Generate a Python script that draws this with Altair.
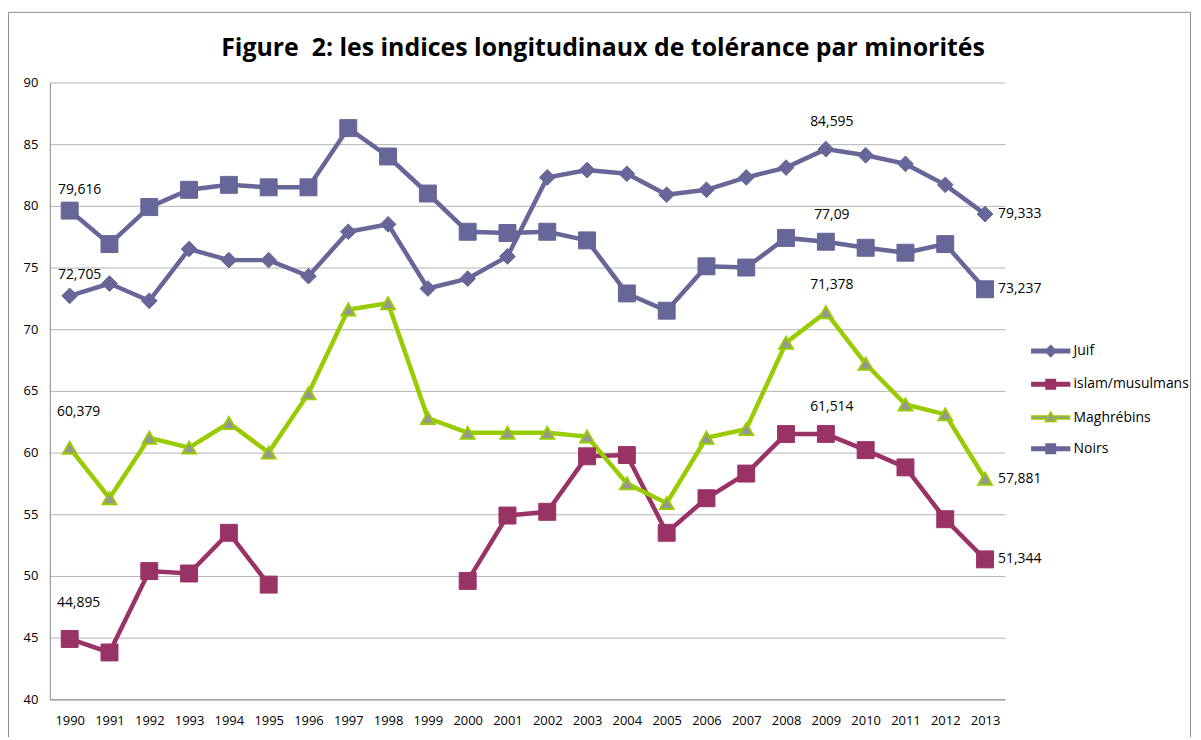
import json
import altair as alt
import pandas as pd

years = list(range(1990, 2014))
series_names = ["Juif", "islam/musulmans", "Maghrébins", "Noirs"]

juif = [72.705, 73.7, 72.3, 76.5, 75.6, 75.6, 74.3, 77.9, 78.5, 73.3, 74.1, 75.9,
        82.3, 82.9, 82.6, 80.9, 81.3, 82.3, 83.1, 84.595, 84.1, 83.4, 81.7, 79.333]
islam = [44.895, 43.8, 50.4, 50.2, 53.5, 49.3, None, None, None, None, 49.6, 54.9,
         55.2, 59.7, 59.8, 53.5, 56.3, 58.3, 61.5, 61.514, 60.2, 58.8, 54.6, 51.344]
maghrebins = [60.379, 56.3, 61.2, 60.4, 62.4, 60.0, 64.8, 71.6, 72.1, 62.8, 61.6, 61.6,
              61.6, 61.3, 57.5, 55.9, 61.2, 61.9, 68.9, 71.378, 67.2, 63.9, 63.1, 57.881]
noirs = [79.616, 76.9, 79.9, 81.3, 81.7, 81.5, 81.5, 86.3, 84.0, 81.0, 77.9, 77.8,
         77.9, 77.2, 72.9, 71.5, 75.1, 75.0, 77.4, 77.09, 76.6, 76.2, 76.9, 73.237]

line_colors = ["#666699", "#993366", "#99CC00", "#666699"]
fill_colors = ["#666699", "#993366", "#969696", "#666699"]

title_text = "Figure\u00a0 2: les indices longitudinaux de tolérance par minorités"
FONT = "Open Sans"

rows = []
for name, vals in zip(series_names, [juif, islam, maghrebins, noirs]):
    for yr, v in zip(years, vals):
        lab = "" if v is None else f"{v:g}".replace(".", ",")
        rows.append({"year": yr, "series": name, "value": v, "label": lab})
df = pd.DataFrame(rows)

# legend symbols: line segment with marker (unit square -1..1)
leg_diamond = "M-3.8,-0.35L3.8,-0.35L3.8,0.35L-3.8,0.35Z M0,-1.1L1.1,0L0,1.1L-1.1,0Z"
leg_square = "M-3.8,-0.35L3.8,-0.35L3.8,0.35L-3.8,0.35Z M-0.95,-0.95L0.95,-0.95L0.95,0.95L-0.95,0.95Z"
leg_triangle = ("M-3.8,-0.3L-0.62,-0.3L-0.62,0.3L-3.8,0.3Z M0.62,-0.3L3.8,-0.3L3.8,0.3L0.62,0.3Z "
                "M0,-1.1L1.1,0.8L-1.1,0.8Z")
legend_paths = [leg_diamond, leg_square, leg_triangle, leg_square]

x_enc = alt.X("year:O", title=None,
              axis=alt.Axis(labelAngle=0, ticks=False, domainColor="#868686",
                            labelPadding=15, labelFontSize=13, labelFont=FONT,
                            labelColor="#000000", grid=False))
y_enc = alt.Y("value:Q", title=None,
              scale=alt.Scale(domain=[40, 90], nice=False, zero=False),
              axis=alt.Axis(values=list(range(40, 95, 5)), ticks=False,
                            domainColor="#868686", gridColor="#b3b3b3",
                            labelPadding=12, labelFontSize=13, labelFont=FONT,
                            labelColor="#000000"))

# line colour scale listed in reverse so that its (disabled) legend is not merged
line_scale = alt.Scale(domain=series_names[::-1], range=line_colors[::-1])
stroke_scale = alt.Scale(domain=series_names, range=line_colors)
fill_scale = alt.Scale(domain=series_names, range=fill_colors)


def in_series(names):
    return f"indexof({json.dumps(names)}, datum.series) >= 0"


frame = alt.Chart(alt.Data(values=[{"a": 1}])).mark_rect(
    fillOpacity=0, stroke="#8c8c8c", strokeWidth=1
).encode(x=alt.value(-41.5), x2=alt.value(1146.5), y=alt.value(-70.5), y2=alt.value(700))

lines = alt.Chart(df).mark_line(strokeWidth=4.5, invalid="break-paths-show-domains").encode(
    x=x_enc, y=y_enc,
    color=alt.Color("series:N", scale=line_scale, legend=None),
)

legend_layer = alt.Chart(df).transform_filter("false").mark_point(
    filled=True, opacity=1, size=100, strokeWidth=1.5
).encode(
    x=x_enc, y=y_enc,
    shape=alt.Shape("series:N", scale=alt.Scale(domain=series_names, range=legend_paths),
                    legend=alt.Legend(title=None)),
    fill=alt.Fill("series:N", scale=fill_scale, legend=alt.Legend(title=None)),
    stroke=alt.Stroke("series:N", scale=stroke_scale, legend=alt.Legend(title=None)),
)


def pts(names, shape, size, sw):
    return alt.Chart(df).transform_filter(in_series(names)).mark_point(
        shape=shape, size=size, filled=True, opacity=1, strokeWidth=sw
    ).encode(
        x=x_enc, y=y_enc,
        fill=alt.Fill("series:N", scale=fill_scale),
        stroke=alt.Stroke("series:N", scale=stroke_scale),
    )


diamonds = pts(["Juif"], "diamond", 250, 1)
squares = pts(["islam/musulmans", "Noirs"], "square", 290, 1)
triangles = pts(["Maghrébins"], "triangle-up", 190, 2)


def labels(yr, names, dx, dy, align="center"):
    return alt.Chart(df).transform_filter(
        f"datum.year == {yr} && " + in_series(names)
    ).mark_text(dx=dx, dy=dy, align=align, baseline="middle", fontSize=14,
                font=FONT, color="#000000").encode(x=x_enc, y=y_enc, text="label:N")


lab1 = labels(1990, ["Juif", "Noirs"], 10, -21)
lab2 = labels(1990, ["Maghrébins", "islam/musulmans"], 9, -36)
lab3 = labels(2009, series_names, 6, -27)
lab4 = labels(2013, series_names, 13, 0, align="left")

chart = alt.layer(
    frame, lines, legend_layer, diamonds, squares, triangles, lab1, lab2, lab3, lab4
).properties(
    width=960, height=620,
    autosize=alt.AutoSizeParams(type="none"),
    padding={"left": 42, "top": 73, "right": 189, "bottom": 36},
    title=alt.TitleParams(title_text, font=FONT, fontSize=25, fontWeight="bold",
                          color="#000000", anchor="middle", frame="group",
                          dx=76, dy=49, offset=0),
).configure_view(stroke=None).configure_legend(
    orient="none", legendX=999, legendY=263, labelFont=FONT, labelFontSize=14,
    labelColor="#000000", labelOffset=16, rowPadding=16.4, symbolSize=100,
    symbolStrokeWidth=1.5, symbolOpacity=1, padding=0,
)

chart.save("out.html", embed_options={"renderer": "svg", "actions": False})
